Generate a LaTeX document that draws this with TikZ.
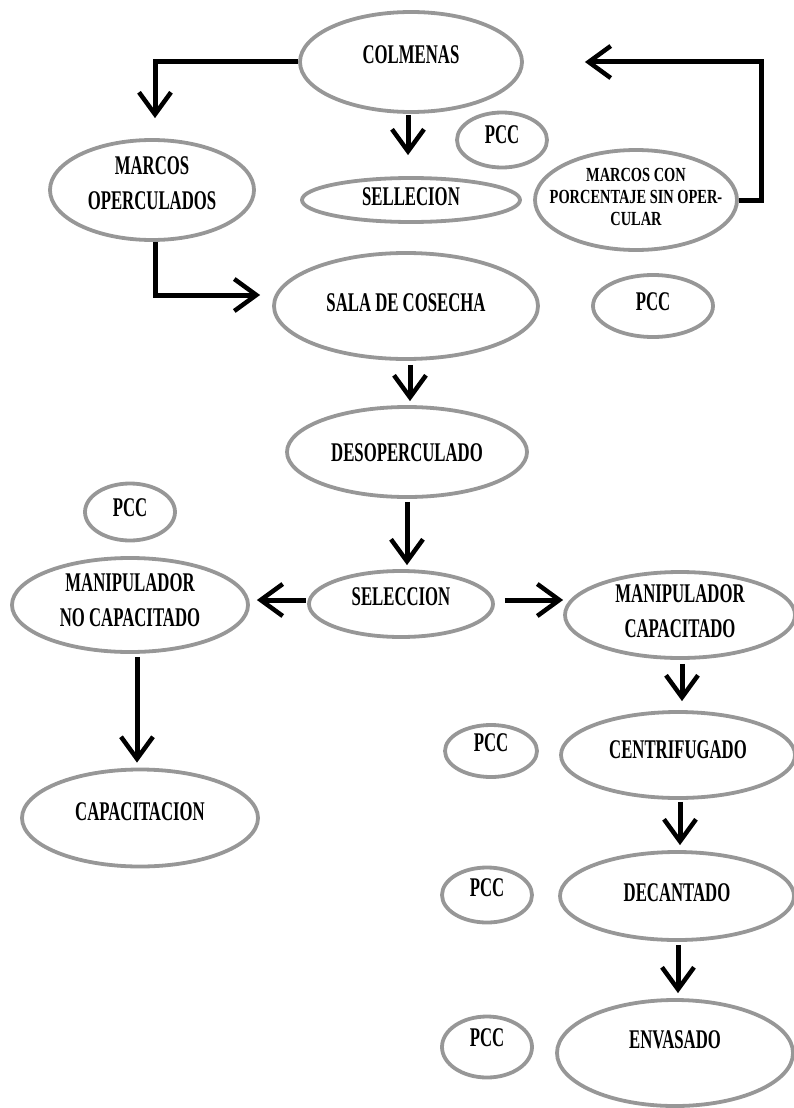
\documentclass[tikz,border=0pt]{standalone}
\usepackage{fontspec}
\setmainfont[FakeStretch=0.62]{Liberation Serif}
\newfontfamily\lblwide[FakeStretch=0.72]{Liberation Serif}
\usetikzlibrary{shapes.geometric,arrows.meta}
\definecolor{edgegray}{HTML}{979797}
\tikzset{
  bub/.style={ellipse, draw=edgegray, line width=3.8pt, inner sep=0pt},
  lbl/.style={align=center, inner sep=0pt, font=\bfseries\fontsize{27}{35}\selectfont},
  smalllbl/.style={align=center, inner sep=0pt, font=\lblwide\bfseries\fontsize{20}{22}\selectfont},
  arr/.style={line width=5pt, draw=black, line join=miter,
    -{Straight Barb[length=22pt,width=32pt,line width=4.5pt]}},
}
\begin{document}
\begin{tikzpicture}[x=1pt,y=-1pt]
\useasboundingbox (0,0) rectangle (794,1108);
% ellipses
\node[bub, minimum width=222, minimum height=100] (colm) at (411,62) {};
\node[bub, minimum width=204, minimum height=100] (mop) at (152,190) {};
\node[bub, minimum width=218, minimum height=44] (sel1) at (411,200) {};
\node[bub, minimum width=90, minimum height=55] (pcc1) at (502,140) {};
\node[bub, minimum width=202, minimum height=100] (mcp) at (636,200) {};
\node[bub, minimum width=264, minimum height=106] (sala) at (406,306) {};
\node[bub, minimum width=120, minimum height=62] (pcc2) at (653,306) {};
\node[bub, minimum width=240, minimum height=90] (desop) at (407,452) {};
\node[bub, minimum width=90, minimum height=57] (pcc3) at (130,512) {};
\node[bub, minimum width=184, minimum height=66] (sel2) at (401,604) {};
\node[bub, minimum width=236, minimum height=94] (mnc) at (130,605) {};
\node[bub, minimum width=236, minimum height=97] (cap) at (140,818) {};
\node[bub, minimum width=230, minimum height=86] (mc) at (680,615) {};
\node[bub, minimum width=234, minimum height=86] (cent) at (678,755) {};
\node[bub, minimum width=92, minimum height=52] (pcc4) at (491,751) {};
\node[bub, minimum width=234, minimum height=88] (dec) at (677,896) {};
\node[bub, minimum width=90, minimum height=55] (pcc5) at (487,895) {};
\node[bub, minimum width=236, minimum height=106] (env) at (675,1053) {};
\node[bub, minimum width=90, minimum height=61] (pcc6) at (487,1047) {};
% texts
\node[lbl] (tcolm) at ([yshift=7pt]colm.center) {COLMENAS};
\node[lbl] (tmop) at ([yshift=7pt]mop.center) {MARCOS\\OPERCULADOS};
\node[lbl] (tsel1) at ([yshift=3pt]sel1.center) {SELLECION};
\node[lbl] (tpcc1) at ([yshift=5pt]pcc1.center) {PCC};
\node[smalllbl] (tmcp) at ([yshift=3pt]mcp.center) {MARCOS CON\\PORCENTAJE SIN OPER-\\CULAR};
\node[lbl] (tsala) at ([yshift=3pt]sala.center) {SALA DE COSECHA};
\node[lbl] (tpcc2) at ([yshift=4pt]pcc2.center) {PCC};
\node[lbl] (tdesop) at ([yshift=-1pt]desop.center) {DESOPERCULADO};
\node[lbl] (tpcc3) at ([yshift=4pt]pcc3.center) {PCC};
\node[lbl] (tsel2) at ([yshift=7pt]sel2.center) {SELECCION};
\node[lbl] (tmnc) at ([yshift=5pt]mnc.center) {MANIPULADOR\\NO CAPACITADO};
\node[lbl] (tcap) at ([yshift=6pt]cap.center) {CAPACITACION};
\node[lbl] (tmc) at ([yshift=4pt]mc.center) {MANIPULADOR\\CAPACITADO};
\node[lbl] (tcent) at ([yshift=5pt]cent.center) {CENTRIFUGADO};
\node[lbl] (tpcc4) at ([yshift=8pt]pcc4.center) {PCC};
\node[lbl] (tdec) at ([yshift=3pt]dec.center) {DECANTADO};
\node[lbl] (tpcc5) at ([yshift=7pt]pcc5.center) {PCC};
\node[lbl] (tenv) at ([yshift=13pt]env.center) {ENVASADO};
\node[lbl] (tpcc6) at ([yshift=9pt]pcc6.center) {PCC};
% connectors
\draw[arr, shorten >=20pt] (colm.west) -| ([xshift=3pt]mop.north);
\draw[arr, shorten <=1pt, shorten >=21pt] ([xshift=-3pt]colm.south) -- ([xshift=-3pt]colm.south |- sel1.north);
\draw[arr, shorten >=61pt] (mcp.east) -- ++(23,0) |- (colm.east);
\draw[arr, shorten >=12pt] ([xshift=3pt]mop.south) |- ([yshift=11pt]sala.west);
\draw[arr, shorten <=4pt, shorten >=4pt] ([xshift=4pt]sala.south) -- ([xshift=4pt]sala.south |- desop.north);
\draw[arr, shorten <=3pt, shorten >=4pt] (desop.south) -- (desop.south |- sel2.north);
\draw[arr, shorten <=1pt, shorten >=7pt] ([yshift=4pt]sel2.west) -- ([yshift=4pt]sel2.west -| mnc.east);
\draw[arr, shorten <=10pt, shorten >=0pt] ([yshift=4pt]sel2.east) -- ([yshift=4pt]sel2.east -| mc.west);
\draw[arr, shorten <=3pt, shorten >=5pt] ([xshift=7pt]mnc.south) -- ([xshift=7pt]mnc.south |- cap.north);
\draw[arr, shorten <=4pt, shorten >=9pt] ([xshift=2pt]mc.south) -- ([xshift=2pt]mc.south |- cent.north);
\draw[arr, shorten <=2pt, shorten >=5pt] ([xshift=2pt]cent.south) -- ([xshift=2pt]cent.south |- dec.north);
\draw[arr, shorten <=3pt, shorten >=5pt] ([xshift=1pt]dec.south) -- ([xshift=1pt]dec.south |- env.north);
\end{tikzpicture}
\end{document}
